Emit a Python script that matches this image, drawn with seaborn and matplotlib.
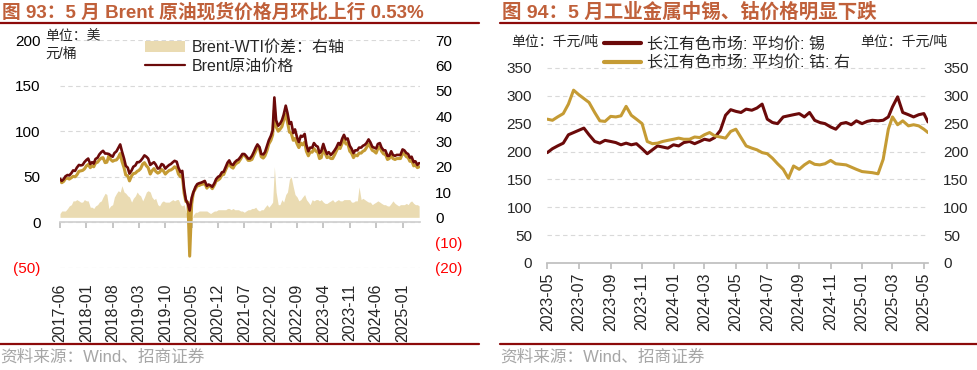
import matplotlib
matplotlib.use('Agg')
import matplotlib.pyplot as plt
from matplotlib.lines import Line2D
from matplotlib.patches import Patch
import pandas as pd
import seaborn as sns

# ---------------- data ----------------
# left panel: semi-monthly points, 2017-06 .. 2025-05 (USD/bbl)
brent = [48, 45.5, 47.5, 50.5, 52, 51.5, 54, 57, 56.5, 60, 63, 62.5, 63, 66,
         68.5, 70, 64, 66, 64.5, 69.5, 71, 74.5, 77, 78.5, 75.5, 75.5, 75, 73.5, 72, 76, 78, 81.5, 85.5, 78, 70, 62, 60, 53.5,
         57, 61, 62.5, 66, 66, 67.5, 70.5, 73.5, 72, 70, 63, 64.5, 66, 63.5, 59, 59.5, 64, 63, 59, 61, 63, 64, 66, 67.5,
         66.5, 60, 55, 56.5, 37, 25, 20, 13, 27, 33, 39, 42, 43, 43.5, 44.5, 45.5, 40, 41.5, 40.5, 39, 43, 47.5, 50, 51,
         55, 55.5, 61, 65.5, 68, 64, 63, 66, 68, 69, 72, 75, 75, 73, 70, 70, 73, 77, 82, 85.5, 82.5, 75, 74.5, 77,
         84, 90, 95, 101, 137, 112, 106, 108, 112, 118, 128, 120, 108, 110, 98, 102, 93, 88, 95, 94, 97, 85, 78, 82,
         82, 87, 84, 83, 76, 78, 86, 80, 75, 77, 74, 76, 79, 82, 87, 85, 92, 96, 91, 92, 84, 81, 76, 79,
         79, 82, 82, 84, 85, 87, 91, 88, 83, 82, 81, 86, 87, 82, 79, 79, 73, 73, 78, 74, 73, 74, 74, 74,
         80, 79, 76, 75, 71, 72, 66, 67, 63, 65]
wti = [46, 43.5, 45, 48, 48.5, 47.5, 49, 50.5, 50, 52, 56, 56.5, 57, 58.5,
       62, 63.5, 60, 62, 61, 65, 66, 68.5, 70.5, 71, 65.5, 66, 73, 69, 67, 68, 68.5, 71, 75.5, 67, 60, 52, 51, 45.5,
       51, 53.5, 54, 56, 57, 59, 64, 65.5, 62, 60, 53, 56.5, 59, 56, 54, 55, 58, 56.5, 53, 55, 57, 57.5, 59, 61,
       59.5, 53, 50, 52, 32, 23, 22, -37, 20, 33, 37, 40, 40.5, 41.5, 42, 43, 37.5, 40, 39.5, 37, 41, 45.5, 46.5, 48,
       52, 52.5, 58, 62, 65, 61, 59.5, 63, 65, 66, 69.5, 73, 74, 71.5, 68, 68, 69, 73.5, 78, 83, 80.5, 72, 70.5, 73,
       79, 86, 90, 96, 123, 105, 100, 102, 105, 112, 119, 110, 99, 98, 90, 92, 86, 82, 87, 85, 88, 78, 73, 77,
       77, 81, 78, 77, 70, 71, 80, 76, 71, 72, 70, 70, 74, 78, 83, 81, 87, 91, 86, 87, 78, 76, 71, 74,
       73, 76, 76, 78, 79, 82, 86, 83, 79, 78, 76, 81, 83, 78, 75, 75, 69, 70, 74, 70, 69, 70, 70, 70,
       76, 75, 72, 71, 67, 68, 62, 63, 60, 61]
spread = [1.5, 2.5, 2.5, 2.5, 3.5, 4.5, 5, 6.5, 6.5, 7, 6.5, 6, 6, 7,
          6.5, 6.5, 4, 4, 3.5, 4.5, 5, 6, 6.5, 8, 9.5, 9, 3.5, 4.5, 5, 8, 9.5, 10.5, 10, 12.5, 10, 9.5, 8.5, 8,
          6, 7.5, 8.5, 10, 9, 8.5, 6.5, 8, 10, 10.5, 10, 8, 7, 7.5, 5, 4.5, 6, 6.5, 6, 6, 6, 6.5, 7, 6.5,
          7, 7, 5, 4.5, 5, 2, 1, 0, -1, 1, 2, 2, 2.5, 2.5, 2.5, 2.5, 2.5, 2, 1.5, 2, 2.5, 2.5, 3, 3,
          3, 3, 3, 3.5, 3.5, 3, 3.5, 3, 3, 3, 2.5, 2.5, 2, 2.5, 3, 3, 3.5, 3.5, 4, 3, 2.5, 3, 3, 4,
          5, 4, 5, 6, 20, 10, 5, 5, 7, 6, 9, 10, 15, 16, 12, 9, 8, 6.5, 7, 8, 9, 7, 6, 5,
          7, 6.5, 7, 7, 6.5, 7, 6, 5.5, 5.5, 6, 6.5, 7, 6, 6.5, 7, 6.5, 6.5, 7, 7, 7, 7, 6, 6, 6.5,
          6.5, 12, 7, 7.5, 7, 6.5, 6, 6, 5, 5.5, 6, 6.5, 6, 5.5, 5, 5, 4.5, 4.5, 5.5, 6.5, 5.5, 5, 4.5, 5,
          5, 5, 5.5, 5, 6, 6.5, 5.5, 5, 5, 4.5]

# right panel: 1st / 11th / 21st of each month, 2023-05 .. 2025-05 (thousand CNY/t)
tin = [198, 205, 210, 215, 230, 234, 238, 242, 230, 218, 215, 220,
       218, 216, 212, 215, 212, 214, 205, 196, 203, 210, 208, 206,
       212, 210, 216, 218, 214, 218, 222, 220, 225, 238, 265, 275,
       272, 270, 276, 274, 278, 285, 258, 252, 250, 262, 264, 266,
       268, 262, 270, 256, 252, 250, 244, 240, 250, 252, 248, 255,
       250, 254, 256, 255, 256, 262, 280, 298, 270, 266, 262, 266,
       268, 253]
cobalt = [258, 256, 262, 268, 285, 310, 302, 295, 288, 270, 255, 254,
          263, 262, 264, 281, 265, 258, 250, 218, 214, 215, 218, 220,
          222, 224, 222, 222, 226, 225, 230, 234, 228, 226, 224, 236,
          240, 225, 210, 206, 203, 198, 196, 188, 178, 168, 152, 174,
          168, 176, 182, 177, 176, 178, 184, 178, 177, 176, 172, 168,
          164, 163, 162, 160, 186, 240, 262, 248, 255, 246, 248, 246,
          240, 234]

left_dates = pd.date_range('2017-06-01', periods=len(brent), freq='SMS')
months = pd.date_range('2023-05-01', '2025-04-01', freq='MS')
right_dates = [m + pd.Timedelta(days=d) for m in months for d in (0, 10, 20)]
right_dates += [pd.Timestamp('2025-05-01'), pd.Timestamp('2025-05-09')]

left_df = pd.DataFrame({'date': left_dates, 'brent': brent, 'wti': wti, 'spread': spread})
right_df = pd.DataFrame({'date': right_dates, 'tin': tin, 'cobalt': cobalt})

left_ticks = pd.date_range('2017-06-01', '2025-01-01', freq='7MS')
right_ticks = pd.date_range('2023-05-01', '2025-05-01', freq='2MS')

# ---------------- style ----------------
sns.set_theme(style='white')
plt.rcParams['font.family'] = ['Liberation Sans', 'Noto Sans CJK SC']
plt.rcParams['axes.unicode_minus'] = False

DARK = '#6B0A0A'
GOLD = '#C59B34'
AREA = '#EADBB2'
GRID = '#D9D9D9'
TITLE_C = '#C0603A'
RULE_C = '#8C0A0A'
FS = 11


def neg_label(v):
    return f'({abs(int(v))})' if v < 0 else f'{int(v)}'


fig = plt.figure(figsize=(9.78, 3.70), dpi=100)
W, H = 978, 370

# ---------------- left panel ----------------
ax = fig.add_axes([60 / W, 1 - 268 / H, 360 / W, 228 / H])
ax2 = ax.twinx()

ax2.fill_between(left_df['date'], 0, left_df['spread'], color=AREA, lw=0)
sns.lineplot(data=left_df, x='date', y='wti', ax=ax, color=GOLD, lw=2.2)
sns.lineplot(data=left_df, x='date', y='brent', ax=ax, color=DARK, lw=1.9)
ax.set_zorder(ax2.get_zorder() + 1)
ax.patch.set_visible(False)

ax.set_xlim(left_df['date'].iloc[0], pd.Timestamp('2025-05-22'))
ax.set_ylim(-50, 200)
ax2.set_ylim(-20, 70)

lt = [-50, 0, 50, 100, 150, 200]
ax.set_yticks(lt, [neg_label(v) for v in lt])
rt = list(range(-20, 80, 10))
ax2.set_yticks(rt, [neg_label(v) for v in rt])
for lab, v in zip(ax.get_yticklabels(), lt):
    lab.set_color('red' if v < 0 else 'black')
for lab, v in zip(ax2.get_yticklabels(), rt):
    lab.set_color('red' if v < 0 else 'black')

ax.set_xticks(left_ticks, [d.strftime('%Y-%m') for d in left_ticks])
ax.tick_params(axis='x', rotation=90, length=4, color='#BFBFBF', labelsize=FS + 0.5, pad=40, bottom=True)
ax.tick_params(axis='y', length=0, labelsize=FS, pad=14)
ax2.tick_params(axis='y', length=0, labelsize=FS, pad=11)
ax.yaxis.grid(True, linestyle=(0, (4, 3)), color=GRID, lw=0.8)
ax.set_xlabel('')
ax.set_ylabel('')
ax2.set_ylabel('')
for s in ['top', 'left', 'right']:
    ax.spines[s].set_visible(False)
    ax2.spines[s].set_visible(False)
ax2.spines['bottom'].set_visible(False)
ax.spines['bottom'].set_position(('data', 0))
ax.spines['bottom'].set_color('#D0D0D0')

ax.legend(handles=[Patch(facecolor=AREA, edgecolor='none', label='Brent-WTI价差：右轴'),
                   Line2D([], [], color=DARK, lw=1.6, label='Brent原油价格')],
          loc='upper left', bbox_to_anchor=(145 / W, 1 - 40 / H), bbox_transform=fig.transFigure,
          frameon=False, fontsize=FS + 0.5, handlelength=2.5, handleheight=0.7,
          handletextpad=0.4, labelspacing=0.25, borderaxespad=0, borderpad=0)
fig.text(45 / W, 1 - 45 / H, '单位：美\n元/桶', fontsize=10, va='center', ha='left', linespacing=1.4)

# ---------------- right panel ----------------
bx = fig.add_axes([547.3 / W, 1 - 263 / H, 380.7 / W, 223 / H])
bx2 = bx.twinx()
sns.lineplot(data=right_df, x='date', y='tin', ax=bx, color=DARK, lw=2.2)
sns.lineplot(data=right_df, x='date', y='cobalt', ax=bx2, color=GOLD, lw=2.2)

bx.set_xlim(right_df['date'].iloc[0], right_df['date'].iloc[-1])
for a in (bx, bx2):
    a.set_ylim(0, 400)
    a.set_yticks(range(0, 400, 50))
    a.tick_params(axis='y', length=0, labelsize=FS, pad=11)
    a.set_ylabel('')
    for s in ['top', 'left', 'right']:
        a.spines[s].set_visible(False)
bx2.spines['bottom'].set_visible(False)
bx.spines['bottom'].set_color('#BFBFBF')
bx.set_xticks(right_ticks, [d.strftime('%Y-%m') for d in right_ticks])
bx.tick_params(axis='x', rotation=90, length=4, color='#BFBFBF', labelsize=FS + 0.5, pad=3, bottom=True)
bx.set_xlabel('')
bx.yaxis.grid(True, linestyle=(0, (4, 3)), color=GRID, lw=0.8)

bx2.legend(handles=[Line2D([], [], color=DARK, lw=3, label='长江有色市场: 平均价: 锡'),
                    Line2D([], [], color=GOLD, lw=3, label='长江有色市场: 平均价: 钴: 右')],
           loc='upper left', bbox_to_anchor=(604 / W, 1 - 37 / H), bbox_transform=fig.transFigure,
           frameon=False, fontsize=FS + 0.5, handlelength=2.3, handletextpad=0.4,
           labelspacing=0.2, borderaxespad=0, borderpad=0)
fig.text(511 / W, 1 - 42 / H, '单位：千元/吨', fontsize=10, va='center', ha='left')
fig.text(860 / W, 1 - 42 / H, '单位：千元/吨', fontsize=10, va='center', ha='left')

# ---------------- titles, rules, sources ----------------
fig.text(2 / W, 1 - 12 / H, '图 93：5 月 Brent 原油现货价格月环比上行 0.53%', fontsize=13.5,
         color=TITLE_C, weight='bold', va='center', ha='left')
fig.text(502 / W, 1 - 12 / H, '图 94：5 月工业金属中锡、钴价格明显下跌', fontsize=14,
         color=TITLE_C, weight='bold', va='center', ha='left')
for x0, x1 in ((0, 479), (500, 978)):
    fig.add_artist(Line2D([x0 / W, x1 / W], [1 - 23 / H] * 2, color=RULE_C, lw=1.6))
    fig.add_artist(Line2D([x0 / W, x1 / W], [1 - 344 / H] * 2, color=RULE_C, lw=1.6))
fig.text(0 / W, 1 - 357 / H, '资料来源：Wind、招商证券', fontsize=12, color='#A6A6A6', va='center', ha='left')
fig.text(500 / W, 1 - 357 / H, '资料来源：Wind、招商证券', fontsize=12, color='#A6A6A6', va='center', ha='left')

fig.savefig('out.png', dpi=100, facecolor='white')
